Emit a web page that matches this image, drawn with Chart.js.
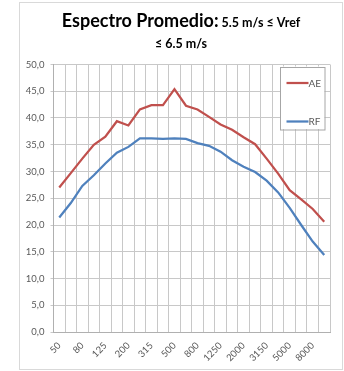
<!DOCTYPE html>
<html>
<head>
<meta charset="utf-8">
<script src="https://cdn.jsdelivr.net/npm/chart.js@4/dist/chart.umd.min.js"></script>
<style>
  html, body { margin: 0; padding: 0; background: #ffffff; }
  #wrap { position: relative; width: 344px; height: 371px; }
</style>
</head>
<body>
<div id="wrap"><canvas id="c" width="344" height="371"></canvas></div>
<script>
// Third-octave band centre frequencies (Hz)
const bands = ['50','63','80','100','125','160','200','250','315','400','500','630',
               '800','1000','1250','1600','2000','2500','3150','4000','5000','6300','8000','10000'];

// Average spectrum levels per band
const aeValues = [27.0, 29.7, 32.4, 35.0, 36.5, 39.4, 38.6, 41.6, 42.4, 42.4, 45.4, 42.3,
                  41.6, 40.2, 38.8, 37.8, 36.4, 35.1, 32.4, 29.6, 26.5, 24.8, 23.0, 20.6];
const rfValues = [21.4, 24.1, 27.3, 29.3, 31.5, 33.5, 34.6, 36.2, 36.2, 36.1, 36.2, 36.1,
                  35.3, 34.8, 33.7, 32.1, 30.9, 29.9, 28.3, 26.1, 23.2, 20.0, 16.9, 14.4];

const seriesNames = ['AE', 'RF'];
const titleMain = 'Espectro Promedio:';
const titleRest = ' 5.5 m/s \u2264 Vref';
const titleLine2 = '\u2264 6.5 m/s';

const FONT = 'Lato, "Open Sans", sans-serif';
const TEXT = '#595959';

// Outer frame and the two-size title
const framePlugin = {
  id: 'frame',
  beforeDraw(chart) {
    const ctx = chart.ctx;
    ctx.save();
    ctx.strokeStyle = '#d9d9d9';
    ctx.lineWidth = 1;
    ctx.strokeRect(19.5, 2.5, 323, 367);
    ctx.restore();
  },
  afterDraw(chart) {
    const ctx = chart.ctx;
    ctx.save();
    ctx.fillStyle = '#000000';
    ctx.textBaseline = 'alphabetic';
    const fA = 'bold 18px ' + FONT;
    const fB = 'bold 12.5px ' + FONT;
    ctx.font = fA; const wA = ctx.measureText(titleMain).width;
    ctx.font = fB; const wB = ctx.measureText(titleRest).width;
    const cx = 181;
    let x = cx - (wA + wB) / 2;
    ctx.textAlign = 'left';
    ctx.font = fA; ctx.fillText(titleMain, x, 27);
    ctx.font = fB; ctx.fillText(titleRest, x + wA, 27);
    ctx.textAlign = 'center';
    ctx.fillText(titleLine2, cx, 48);
    ctx.restore();
  }
};

// Boxed legend inside the plot area, upper right
const legendBoxPlugin = {
  id: 'legendBox',
  afterDatasetsDraw(chart) {
    const ctx = chart.ctx;
    const ca = chart.chartArea;
    const bx = ca.right - 50, by = ca.top + 2, bw = 44.5, bh = 62.5;
    ctx.save();
    ctx.fillStyle = '#ffffff';
    ctx.fillRect(bx, by, bw, bh);
    ctx.strokeStyle = '#a6a6a6';
    ctx.lineWidth = 1;
    ctx.strokeRect(Math.round(bx) + 0.5, Math.round(by) + 0.5, bw, bh);
    const rows = [by + 16.5, by + 55];
    chart.data.datasets.forEach((ds, i) => {
      const y = rows[i];
      ctx.strokeStyle = ds.borderColor;
      ctx.lineWidth = 2.25;
      ctx.beginPath();
      ctx.moveTo(bx + 6.5, y);
      ctx.lineTo(bx + 28.5, y);
      ctx.stroke();
      ctx.fillStyle = TEXT;
      ctx.font = '10px ' + FONT;
      ctx.textAlign = 'left';
      ctx.textBaseline = 'middle';
      ctx.fillText(ds.label, bx + 28.5, y + 0.5);
    });
    ctx.restore();
  }
};

new Chart(document.getElementById('c'), {
  type: 'line',
  data: {
    labels: bands,
    datasets: [
      { label: seriesNames[0], data: aeValues, borderColor: '#C0504D', backgroundColor: '#C0504D',
        borderWidth: 2.25, pointRadius: 0, tension: 0, fill: false },
      { label: seriesNames[1], data: rfValues, borderColor: '#4F81BD', backgroundColor: '#4F81BD',
        borderWidth: 2.25, pointRadius: 0, tension: 0, fill: false }
    ]
  },
  options: {
    responsive: false,
    animation: false,
    devicePixelRatio: 1,
    layout: { padding: { left: 19, right: 14, top: 64.5, bottom: 0 } },
    plugins: {
      legend: { display: false },
      title: { display: false },
      tooltip: { enabled: false }
    },
    scales: {
      x: {
        type: 'category',
        offset: true,
        grid: { offset: true, color: '#c8c8c8', lineWidth: 1, drawTicks: false },
        border: { color: '#b0b0b0' },
        ticks: {
          autoSkip: false,
          minRotation: 45,
          maxRotation: 45,
          padding: 8,
          color: TEXT,
          font: { family: FONT, size: 9.5 },
          callback: (v, i) => (i % 2 === 0 ? bands[i] : '')
        },
        afterFit(scale) { scale.height = 39; }
      },
      y: {
        min: 0,
        max: 50,
        grid: { color: '#c8c8c8', lineWidth: 1, tickLength: 3 },
        border: { color: '#b0b0b0' },
        ticks: {
          stepSize: 5,
          padding: 6,
          color: TEXT,
          font: { family: FONT, size: 9.5 },
          callback: v => v.toFixed(1).replace('.', ',')
        },
        afterFit(scale) { scale.width = 34.5; }
      }
    }
  },
  plugins: [framePlugin, legendBoxPlugin]
});
</script>
</body>
</html>
